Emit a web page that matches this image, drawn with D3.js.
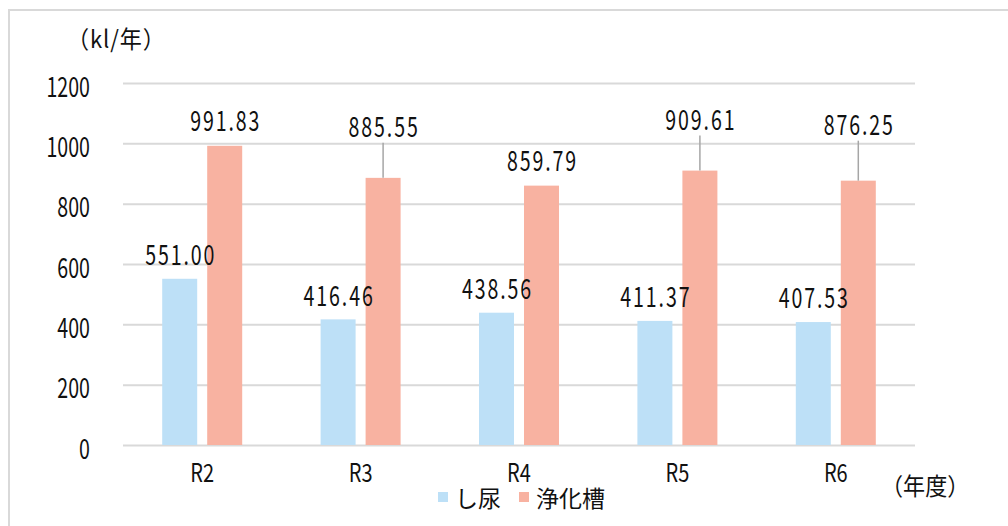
<!DOCTYPE html>
<html>
<head>
<meta charset="utf-8">
<script src="https://cdn.jsdelivr.net/npm/d3@7/dist/d3.min.js"></script>
<style>
  html, body { margin: 0; padding: 0; background: #fff; }
  svg { display: block; }
  text { font-family: "Noto Sans CJK JP", "Noto Sans", sans-serif; fill: #111; }
</style>
</head>
<body>
<svg id="chart" width="1008" height="526"></svg>
<script>
// 年度
const categories = ["R2", "R3", "R4", "R5", "R6"];
// 系列名
const seriesNames = ["し尿", "浄化槽"];
// し尿 (kl/年)
const shinyo = [551.00, 416.46, 438.56, 411.37, 407.53];
// 浄化槽 (kl/年)
const jokaso = [991.83, 885.55, 859.79, 909.61, 876.25];
// 目盛
const yTicks = [0, 200, 400, 600, 800, 1000, 1200];

// ラベルの持ち上げ量 (px, 棒の上端から)
const shinyoLabelLift = [26, 26, 26, 26, 26];
const jokasoLabelLift = [27, 53, 27, 53, 58];

const colors = ["#bde0f7", "#f8b2a1"];

const svg = d3.select("#chart");
const W = 1008, H = 526;

// 外枠
svg.append("rect")
  .attr("x", 9).attr("y", 10)
  .attr("width", W + 20).attr("height", H + 20)
  .attr("fill", "none").attr("stroke", "#d9d9d9").attr("stroke-width", 2);

const plot = { left: 123, right: 915, top: 83, bottom: 445 };

const x = d3.scaleBand().domain(categories).range([plot.left, plot.right]);
const xs = d3.scaleBand().domain(seriesNames).range([-40, 40]).paddingInner(2 / 9);
const y = d3.scaleLinear().domain([0, 1200]).range([plot.bottom, plot.top]);

// 横方向に詰めた文字を置く
function place(sel, px, py, sx) {
  sel.attr("transform", `translate(${px},${py}) scale(${sx},1)`);
  return sel;
}

// 目盛線と目盛ラベル
const yAxis = d3.axisLeft(y).tickValues(yTicks).tickSize(-(plot.right - plot.left)).tickFormat(d => d);
const gy = svg.append("g").attr("transform", `translate(${plot.left},0)`).call(yAxis);
gy.select(".domain").remove();
gy.selectAll(".tick line").attr("stroke", "#d9d9d9").attr("stroke-width", 2);
gy.selectAll(".tick text").each(function() {
  const t = d3.select(this);
  t.attr("x", null).attr("dy", null).attr("dominant-baseline", "central")
    .attr("text-anchor", "end").style("font-size", "28px").attr("fill", "#111");
  place(t, 90 - plot.left, 1, 0.7);
});

const seriesData = [shinyo, jokaso];
const lifts = [shinyoLabelLift, jokasoLabelLift];
const cx = (cat, s) => x(cat) + x.bandwidth() / 2 + xs(s) + xs.bandwidth() / 2;

// 棒
const barLayer = svg.append("g");
const labelLayer = svg.append("g");

seriesNames.forEach((s, k) => {
  barLayer.append("g").selectAll("rect")
    .data(seriesData[k])
    .join("rect")
    .attr("x", (v, i) => x(categories[i]) + x.bandwidth() / 2 + xs(s))
    .attr("width", xs.bandwidth())
    .attr("y", v => y(v))
    .attr("height", v => y(0) - y(v))
    .attr("fill", colors[k]);
});

// 引き出し線とデータラベル
seriesNames.forEach((s, k) => {
  seriesData[k].forEach((v, i) => {
    const px = cx(categories[i], s);
    const ly = y(v) - lifts[k][i];
    if (lifts[k][i] > 40) {
      labelLayer.append("line")
        .attr("x1", px).attr("x2", px)
        .attr("y1", ly + 18).attr("y2", y(v))
        .attr("stroke", "#a6a6a6").attr("stroke-width", 1.5);
    }
    const t = labelLayer.append("text")
      .attr("text-anchor", "middle").attr("dominant-baseline", "central")
      .style("font-size", "28px").style("letter-spacing", "2.7px")
      .text(v.toFixed(2));
    place(t, px + 1, ly, 0.7);
  });
});

// 年度ラベル
categories.forEach(c => {
  const t = svg.append("text")
    .attr("text-anchor", "middle").attr("dominant-baseline", "central")
    .style("font-size", "25px").text(c);
  place(t, x(c) + x.bandwidth() / 2, 472, 0.8);
});

// 単位
place(svg.append("text").attr("dominant-baseline", "central").style("font-size", "24px").style("letter-spacing", "1px").text("（kl/年）"), 67, 38, 0.92);
place(svg.append("text").attr("dominant-baseline", "central").style("font-size", "24px").text("（年度）"), 881, 485, 0.92);

// 凡例
const legendItems = [{ name: seriesNames[0], x: 438, c: colors[0] }, { name: seriesNames[1], x: 519, c: colors[1] }];
const legend = svg.append("g");
legendItems.forEach(it => {
  legend.append("rect").attr("x", it.x).attr("y", 492).attr("width", 10).attr("height", 10).attr("fill", it.c);
  legend.append("text").attr("x", it.x + 17).attr("y", 497)
    .attr("dominant-baseline", "central").style("font-size", "23px").text(it.name);
});
</script>
</body>
</html>
